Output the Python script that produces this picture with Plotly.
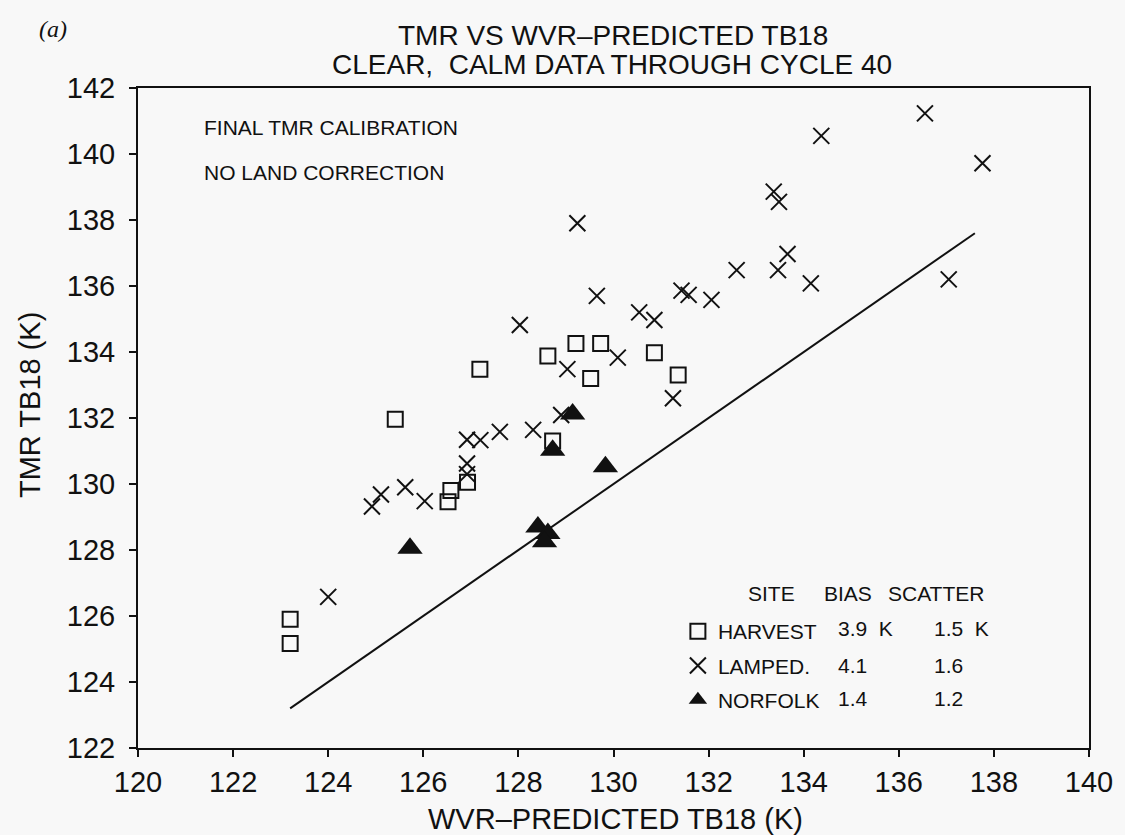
import plotly.graph_objects as go

# ---------------- data ----------------
harvest_x = [123.2, 123.2, 125.41, 126.52, 126.58, 126.93, 127.19, 128.62, 128.72,
             129.21, 129.52, 129.73, 130.86, 131.36]
harvest_y = [125.17, 125.9, 131.96, 129.46, 129.8, 130.05, 133.48, 133.88, 131.3,
             134.26, 133.2, 134.26, 133.98, 133.3]

lamped_x = [124.0, 124.92, 125.11, 125.62, 126.03, 126.92, 126.92, 126.92, 127.2,
            127.61, 128.31, 128.9, 128.03, 129.03, 130.09, 129.65, 129.24, 130.54,
            130.86, 131.25, 131.43, 131.58, 132.06, 132.59, 133.46, 133.66, 134.15,
            133.37, 133.48, 134.37, 136.55, 137.76, 137.05]
lamped_y = [126.58, 129.32, 129.68, 129.9, 129.48, 130.62, 130.3, 131.34, 131.33,
            131.58, 131.64, 132.09, 134.82, 133.48, 133.83, 135.7, 137.9, 135.2,
            134.97, 132.6, 135.86, 135.73, 135.58, 136.48, 136.48, 136.97, 136.08,
            138.86, 138.55, 140.55, 141.23, 139.72, 136.2]

norfolk_x = [125.72, 128.41, 128.62, 128.55, 128.72, 129.14, 129.83]
norfolk_y = [128.05, 128.7, 128.5, 128.25, 131.02, 132.12, 130.52]

# 1:1 reference line end points (TMR = WVR)
line_x = [123.2, 137.6]
line_y = [123.2, 137.6]

x_ticks = [120, 122, 124, 126, 128, 130, 132, 134, 136, 138, 140]
y_ticks = [122, 124, 126, 128, 130, 132, 134, 136, 138, 140, 142]

sites = ["HARVEST", "LAMPED.", "NORFOLK"]
bias = ["3.9  K", "4.1", "1.4"]
scatter = ["1.5  K", "1.6", "1.2"]

title_lines = ["TMR VS WVR\u2013PREDICTED TB18", "CLEAR,  CALM DATA THROUGH CYCLE 40"]
notes = ["FINAL TMR CALIBRATION", "NO LAND CORRECTION"]

# ---------------- figure ----------------
W, H = 1125, 835
L, R, T, B = 138, 27, 88, 87
pw, ph = W - L - R, H - T - B

def px(xp):
    return (xp - L) / pw

def py(yp):
    return (H - B - yp) / ph

INK = "#111111"
FONT = "Liberation Sans, Arial, sans-serif"

fig = go.Figure()

fig.add_trace(go.Scatter(x=line_x, y=line_y, mode="lines",
                         line=dict(color=INK, width=2), showlegend=False,
                         hoverinfo="skip"))

fig.add_trace(go.Scatter(x=harvest_x, y=harvest_y, mode="markers", name=sites[0],
                         legendgroup="h",
                         marker=dict(symbol="square-open", size=15,
                                     line=dict(color=INK, width=2), color=INK)))
fig.add_trace(go.Scatter(x=lamped_x, y=lamped_y, mode="markers", name=sites[1],
                         legendgroup="l",
                         marker=dict(symbol="x-thin-open", size=16,
                                     line=dict(color=INK, width=2), color=INK)))
fig.add_trace(go.Scatter(x=norfolk_x, y=norfolk_y, mode="markers", name=sites[2],
                         legendgroup="n",
                         marker=dict(symbol="triangle-up", size=22, color=INK,
                                     line=dict(color=INK, width=0))))

axis_common = dict(showline=True, linecolor=INK, linewidth=2, mirror=True,
                   showgrid=False, zeroline=False, ticks="outside", ticklen=7,
                   tickwidth=2, tickcolor=INK,
                   tickfont=dict(family=FONT, size=29, color=INK))

fig.update_xaxes(range=[120, 140], tickvals=x_ticks, **axis_common)
fig.update_yaxes(range=[122, 142], tickvals=y_ticks, ticklabelstandoff=8, **axis_common)

ann = []
# titles
ann.append(dict(text=title_lines[0], x=px(617), y=py(36), xref="paper", yref="paper",
                showarrow=False, font=dict(family=FONT, size=28, color=INK),
                xanchor="center", yanchor="middle"))
ann.append(dict(text=title_lines[1], x=px(616), y=py(65), xref="paper", yref="paper",
                showarrow=False, font=dict(family=FONT, size=28, color=INK),
                xanchor="center", yanchor="middle"))
ann.append(dict(text="<i>(a)</i>", x=px(36), y=py(29), xref="paper", yref="paper",
                showarrow=False, font=dict(family="Liberation Serif, serif", size=24, color=INK),
                xanchor="left", yanchor="middle"))
# axis titles
ann.append(dict(text="WVR\u2013PREDICTED TB18 (K)", x=px(620), y=py(819), xref="paper",
                yref="paper", showarrow=False, font=dict(family=FONT, size=29, color=INK),
                xanchor="center", yanchor="middle"))
ann.append(dict(text="TMR TB18 (K)", x=px(29), y=py(405), xref="paper", yref="paper",
                showarrow=False, textangle=-90, font=dict(family=FONT, size=29, color=INK),
                xanchor="center", yanchor="middle"))
# notes
for txt, yp in zip(notes, [127, 172]):
    ann.append(dict(text=txt, x=px(203), y=py(yp), xref="paper", yref="paper",
                    showarrow=False, font=dict(family=FONT, size=21, color=INK),
                    xanchor="left", yanchor="middle"))
# legend table header and columns
for txt, xc in zip(["SITE", "BIAS", "SCATTER"], [777, 855, 944]):
    ann.append(dict(text=txt, x=px(xc), y=py(593), xref="paper", yref="paper",
                    showarrow=False, font=dict(family=FONT, size=21, color=INK),
                    xanchor="center", yanchor="middle"))
for b, s, yp in zip(bias, scatter, [628, 665, 698]):
    ann.append(dict(text=b, x=px(843), y=py(yp), xref="paper", yref="paper",
                    showarrow=False, font=dict(family=FONT, size=21, color=INK),
                    xanchor="left", yanchor="middle"))
    ann.append(dict(text=s, x=px(940), y=py(yp), xref="paper", yref="paper",
                    showarrow=False, font=dict(family=FONT, size=21, color=INK),
                    xanchor="left", yanchor="middle"))

fig.update_layout(
    width=W, height=H,
    margin=dict(l=L, r=R, t=T, b=B),
    paper_bgcolor="#f8f8f8", plot_bgcolor="#f8f8f8",
    annotations=ann,
    showlegend=True,
    legend=dict(x=px(683), y=py(611), xanchor="left", yanchor="top",
                bgcolor="rgba(0,0,0,0)", borderwidth=0, tracegroupgap=4,
                font=dict(family=FONT, size=21, color=INK)),
)

fig.write_html("out.html")
